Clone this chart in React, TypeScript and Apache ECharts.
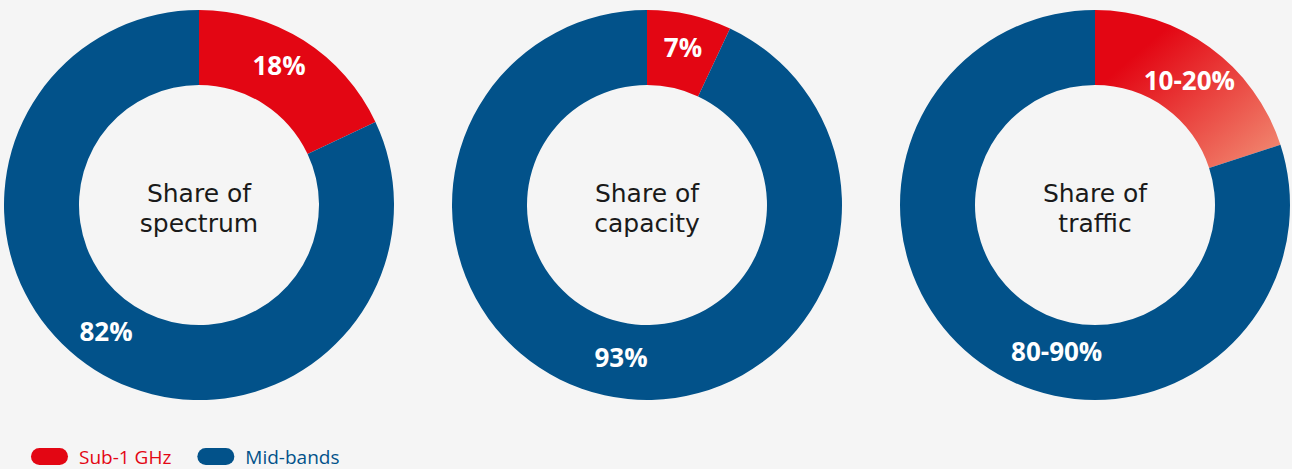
import React, { useEffect, useRef } from "react";
import * as echarts from "echarts";

const categories = ["Sub-1 GHz", "Mid-bands"];
const centerTitleLines = [
  ["Share of", "spectrum"],
  ["Share of", "capacity"],
  ["Share of", "traffic"],
];
const spectrumValues = [18, 82];
const capacityValues = [7, 93];
const trafficValues = [20, 80];
const spectrumLabels = ["18%", "82%"];
const capacityLabels = ["7%", "93%"];
const trafficLabels = ["10-20%", "80-90%"];

const RED = "#e30613";
const BLUE = "#02528a";
const BG = "#f5f5f5";

export default function App() {
  const ref = useRef<HTMLDivElement>(null);
  useEffect(() => {
    document.body.style.margin = "0";
    const chart = echarts.init(ref.current!, null, { renderer: "svg" });
    const centers = [199, 647, 1095];
    const cy = 205;
    const valueSets = [spectrumValues, capacityValues, trafficValues];
    const labelSets = [spectrumLabels, capacityLabels, trafficLabels];
    const offsets: number[][][] = [
      [[-6, -4], [-7, -10]],
      [[1, -1], [9, -5]],
      [[0, 5], [56, 16]],
    ];
    const font = "'Open Sans', sans-serif";
    const titleFont = "'DejaVu Sans', sans-serif";
    const series = valueSets.map((vals, si) => ({
      type: "pie",
      center: [centers[si], cy],
      radius: [120, 195],
      startAngle: 90,
      clockwise: true,
      silent: true,
      avoidLabelOverlap: false,
      label: {
        show: true,
        position: "inside",
        color: "#ffffff",
        fontSize: 26,
        fontWeight: "bold",
        fontFamily: font,
        formatter: (p: any) => labelSets[si][p.dataIndex],
      },
      labelLine: { show: false },
      itemStyle: { borderWidth: 0 },
      data: vals.map((v, i) => ({
        name: categories[i],
        value: v,
        label: { offset: offsets[si][i] },
        itemStyle: {
          color:
            i === 1
              ? BLUE
              : si === 2
              ? new echarts.graphic.LinearGradient(0, 0, 1, 1, [
                  { offset: 0, color: RED },
                  { offset: 0.25, color: RED },
                  { offset: 1, color: "#f29076" },
                ])
              : RED,
        },
      })),
    }));
    const graphics: any[] = [];
    centerTitleLines.forEach((lines, i) => {
      lines.forEach((line, li) => {
        graphics.push({
          type: "text",
          x: centers[i],
          y: cy - 12 + li * 30,
          style: {
            text: line,
            fill: "#1a1a1a",
            fontSize: 25,
            fontFamily: titleFont,
            align: "center",
            verticalAlign: "middle",
          },
        });
      });
    });
    chart.setOption({
      animation: false,
      backgroundColor: BG,
      color: [RED, BLUE],
      legend: {
        left: 26,
        top: 442,
        itemWidth: 37,
        itemHeight: 17,
        itemGap: 26,
        icon: "path://M8.5,0H28.5A8.5,8.5,0,0,1,28.5,17H8.5A8.5,8.5,0,0,1,8.5,0Z",
        selectedMode: false,
        textStyle: { fontSize: 19, fontFamily: font, padding: [0, 0, 0, 6] },
        data: [
          { name: categories[0], itemStyle: { color: RED }, textStyle: { color: RED } },
          { name: categories[1], itemStyle: { color: BLUE }, textStyle: { color: BLUE } },
        ],
      },
      graphic: graphics,
      series,
    });
    return () => chart.dispose();
  }, []);
  return <div ref={ref} style={{ width: 1292, height: 469 }} />;
}
